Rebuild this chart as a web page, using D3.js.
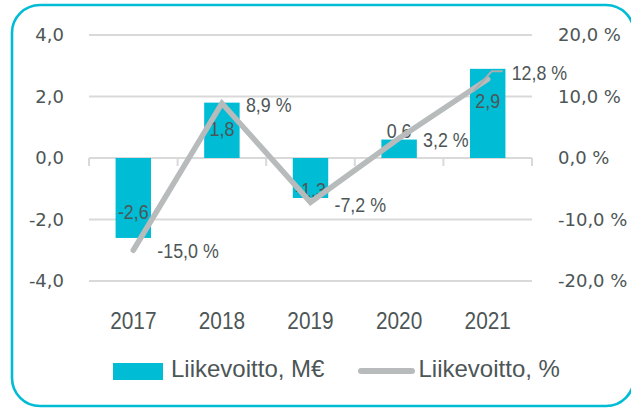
<!DOCTYPE html>
<html>
<head>
<meta charset="utf-8">
<script src="https://cdn.jsdelivr.net/npm/d3@7"></script>
<style>
  html, body { margin: 0; padding: 0; background: #ffffff; }
  svg { display: block; }
</style>
</head>
<body>
<script>
// ---- data ----
const years = ["2017", "2018", "2019", "2020", "2021"];
const profitM = [-2.6, 1.8, -1.3, 0.6, 2.9];          // Liikevoitto, M€
const profitPct = [-15.0, 8.9, -7.2, 3.2, 12.8];      // Liikevoitto, %
const leftTicks = [-4, -2, 0, 2, 4];
const rightTicks = [-20, -10, 0, 10, 20];
const seriesNames = ["Liikevoitto, M€", "Liikevoitto, %"];

// ---- layout (label nudges, as placed in the original) ----
const barLabelDy = [-27, 26, -8.5, -9.5, 32];
const lineLabelDy = [0, 1, 2, 1, -7];

const W = 631, H = 408;
const cyan = "#00bcd4", grey = "#b8bbbb", grid = "#d9d9d9", txt = "#4d5656";
const fmt1 = d => d.toFixed(1).replace(".", ",");
const SX = 0.85; // horizontal condensing of label font

const svg = d3.select("body").append("svg").attr("width", W).attr("height", H);

// frame
svg.append("rect").attr("x", 12).attr("y", 5).attr("width", 622).attr("height", 401)
  .attr("rx", 28).attr("ry", 28).attr("fill", "none").attr("stroke", cyan).attr("stroke-width", 2.6);

const x = d3.scaleBand().domain(years).range([89, 532]);
const yL = d3.scaleLinear().domain([-4, 4]).range([281, 35]);
const yR = d3.scaleLinear().domain([-20, 20]).range([281, 35]);

// gridlines
svg.append("g").selectAll("line").data(leftTicks).join("line")
  .attr("x1", 89).attr("x2", 532)
  .attr("y1", d => yL(d)).attr("y2", d => yL(d))
  .attr("stroke", grid).attr("stroke-width", 2);

// category ticks on zero line
const bounds = years.map(d => x(d)).concat([x(years[years.length - 1]) + x.bandwidth()]);
svg.append("g").selectAll("line").data(bounds).join("line")
  .attr("x1", d => d).attr("x2", d => d)
  .attr("y1", yL(0)).attr("y2", yL(0) + 8)
  .attr("stroke", grid).attr("stroke-width", 2);

// left axis
const gl = svg.append("g").attr("transform", "translate(89,0)")
  .call(d3.axisLeft(yL).tickValues(leftTicks).tickSize(0).tickPadding(25).tickFormat(fmt1));
gl.select(".domain").remove();
gl.selectAll("text").attr("font-family", "DejaVu Sans").attr("font-size", 18).attr("fill", txt);

// right axis
const gr = svg.append("g").attr("transform", "translate(532,0)")
  .call(d3.axisRight(yR).tickValues(rightTicks).tickSize(0).tickPadding(26).tickFormat(d => fmt1(d) + " %"));
gr.select(".domain").remove();
gr.selectAll("text").attr("font-family", "DejaVu Sans").attr("font-size", 18).attr("fill", txt);

const cx = i => x(years[i]) + x.bandwidth() / 2;

// year labels
svg.append("g").selectAll("text").data(years).join("text")
  .attr("transform", (d, i) => `translate(${cx(i)},329) scale(${SX},1)`)
  .attr("text-anchor", "middle")
  .attr("font-family", "Liberation Sans").attr("font-size", 24.5).attr("fill", txt)
  .text(d => d);

// bars
const bw = x.bandwidth() * 0.4;
svg.append("g").selectAll("rect").data(profitM).join("rect")
  .attr("x", (d, i) => x(years[i]) + (x.bandwidth() - bw) / 2)
  .attr("width", bw)
  .attr("y", d => Math.min(yL(d), yL(0)))
  .attr("height", d => Math.abs(yL(d) - yL(0)))
  .attr("fill", cyan);

// bar labels
svg.append("g").selectAll("text").data(profitM).join("text")
  .attr("transform", (d, i) => `translate(${cx(i)},${yL(d) + barLabelDy[i]}) scale(${SX},1)`)
  .attr("dy", "0.36em")
  .attr("text-anchor", "middle")
  .attr("font-family", "Liberation Sans").attr("font-size", 21).attr("fill", txt)
  .text(d => fmt1(d));

// line
const line = d3.line().x((d, i) => cx(i)).y(d => yR(d));
svg.append("path").datum(profitPct).attr("d", line)
  .attr("fill", "none").attr("stroke", grey).attr("stroke-width", 5.5)
  .attr("stroke-linecap", "round").attr("stroke-linejoin", "miter");

// leader line for last label
const li = profitPct.length - 1;
const lx = cx(li), ly = yR(profitPct[li]);
svg.append("path")
  .attr("d", d3.line()([[lx - 14, ly + 12], [lx + 4, ly - 8], [lx + 15, ly - 8]]))
  .attr("fill", "none").attr("stroke", "#a9adad").attr("stroke-width", 2);

// line labels
svg.append("g").selectAll("text").data(profitPct).join("text")
  .attr("transform", (d, i) => `translate(${cx(i) + 24},${yR(d) + lineLabelDy[i]}) scale(${SX},1)`)
  .attr("dy", "0.36em")
  .attr("font-family", "Liberation Sans").attr("font-size", 21).attr("fill", txt)
  .text(d => fmt1(d) + " %");

// legend
const lg = svg.append("g");
lg.append("rect").attr("x", 113).attr("y", 363).attr("width", 50).attr("height", 17).attr("fill", cyan);
lg.append("text").attr("x", 171).attr("y", 377)
  .attr("font-family", "Liberation Sans").attr("font-size", 24).attr("fill", txt).text(seriesNames[0]);
lg.append("line").attr("x1", 361).attr("x2", 412).attr("y1", 371).attr("y2", 371)
  .attr("stroke", grey).attr("stroke-width", 6).attr("stroke-linecap", "round");
lg.append("text").attr("x", 418.5).attr("y", 377)
  .attr("font-family", "Liberation Sans").attr("font-size", 24).attr("fill", txt).text(seriesNames[1]);
</script>
</body>
</html>
